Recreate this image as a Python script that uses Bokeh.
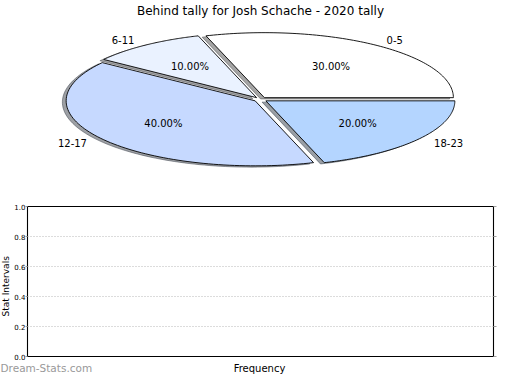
import numpy as np
from bokeh.plotting import figure
from bokeh.layouts import column, row
from bokeh.models import ColumnDataSource, FixedTicker, LinearAxis, PrintfTickFormatter
from bokeh.core.properties import value
from bokeh.embed import file_html
from bokeh.resources import INLINE

# ---- data ----
title_text = "Behind tally for Josh Schache - 2020 tally"
categories = ["0-5", "6-11", "12-17", "18-23"]
counts = [3, 1, 4, 2]
slice_colors = ["#FFFFFF", "#EAF2FF", "#C6D9FF", "#B4D5FF"]
y_ticks = [0.0, 0.2, 0.4, 0.6, 0.8, 1.0]
x_label = "Frequency"
y_label = "Stat Intervals"
watermark = "Dream-Stats.com"

FONT = "DejaVu Sans"
EXPLODE = 0.035
SHADOW = (-0.02, -0.02)
W = 512

def blank(fig):
    fig.axis.visible = False
    fig.grid.visible = False
    fig.outline_line_color = None
    return fig

# ---- pie (elliptical because of unequal axis scaling) ----
p1 = blank(figure(width=W, height=190, x_range=(-1.3757, 1.3333), y_range=(-1.4, 1.5231),
                  min_border=0, toolbar_location=None, output_backend="svg"))

vals = np.array(counts, dtype=float)
fracs = vals / vals.sum()
ends = np.cumsum(fracs) * 2 * np.pi
starts = ends - fracs * 2 * np.pi
mids = (starts + ends) / 2

def hex_to_rgb(h):
    h = h.lstrip("#")
    return tuple(int(h[i:i + 2], 16) for i in (0, 2, 4))

wx, wy, sx, sy, shadow_cols = [], [], [], [], []
for a0, a1, am, col in zip(starts, ends, mids, slice_colors):
    ox, oy = EXPLODE * np.cos(am), EXPLODE * np.sin(am)
    t = np.linspace(a0, a1, 90)
    xs = np.concatenate([[ox], ox + np.cos(t)])
    ys = np.concatenate([[oy], oy + np.sin(t)])
    wx.append(list(xs)); wy.append(list(ys))
    sx.append(list(xs + SHADOW[0])); sy.append(list(ys + SHADOW[1]))
    r, g, b = hex_to_rgb(col)
    shadow_cols.append("#%02x%02x%02x" % (int(r * 0.3), int(g * 0.3), int(b * 0.3)))

p1.patches(xs="xs", ys="ys", source=ColumnDataSource(dict(xs=sx, ys=sy, c=shadow_cols)),
           fill_color="c", fill_alpha=0.5, line_color="c", line_alpha=0.5, line_width=1)
p1.patches(xs="xs", ys="ys", source=ColumnDataSource(dict(xs=wx, ys=wy, c=slice_colors)),
           fill_color="c", line_color="black", line_width=0.9)

pct_text = ["%.2f%%" % (f * 100) for f in fracs]
pr = EXPLODE + 0.6
p1.text(x=list(pr * np.cos(mids)), y=list(pr * np.sin(mids)), text=pct_text,
        text_align="center", text_baseline="middle", text_font=value(FONT),
        text_font_size="10px", text_color="black")

lr = EXPLODE + 1.1
lx = lr * np.cos(mids)
ly = lr * np.sin(mids)
aligns = ["left" if v > 0 else "right" for v in lx]
p1.text(x="x", y="y", text="t", text_align="a",
        source=ColumnDataSource(dict(x=list(lx), y=list(ly), t=categories, a=aligns)),
        text_baseline="middle", text_font=value(FONT), text_font_size="10px",
        text_color="black")

p1.text(x=[0], y=[1.3615], text=[title_text], text_align="center", text_baseline="middle",
        text_font=value(FONT), text_font_size="12px", text_color="black")

# ---- empty axes ----
H2 = 171
LW = 11
TOP2, BOT2, FRAME_H = 16, 5, 150
p2 = figure(width=W - LW, height=H2, x_range=(0, 1), y_range=(0, 1),
            min_border_left=14, min_border_right=19, min_border_top=TOP2, min_border_bottom=BOT2,
            toolbar_location=None, output_backend="svg")
p2.xaxis.visible = False
p2.xgrid.visible = False
p2.outline_line_color = "black"
p2.outline_line_width = 1.1

ya = p2.yaxis[0]
ya.ticker = FixedTicker(ticks=y_ticks)
ya.formatter = PrintfTickFormatter(format="%.1f")
ya.axis_line_color = None
ya.major_tick_line_color = "#a0a0a0"
ya.major_tick_out = 2
ya.major_tick_in = 0
ya.minor_tick_line_color = None
ya.major_label_standoff = 0
ya.major_label_text_font = FONT
ya.major_label_text_font_size = "7px"
ya.major_label_text_color = "black"

ra = LinearAxis(ticker=FixedTicker(ticks=[], minor_ticks=y_ticks))
ra.axis_line_color = None
ra.major_tick_line_color = None
ra.minor_tick_line_color = "#a0a0a0"
ra.minor_tick_out = 3
ra.minor_tick_in = 0
ra.major_label_standoff = 0
p2.add_layout(ra, "right")

p2.ygrid.ticker = FixedTicker(ticks=y_ticks)
p2.ygrid.grid_line_color = "#b8b8b8"
p2.ygrid.grid_line_dash = "1 2"
p2.ygrid.grid_line_width = 1

# y-axis title strip at the far left
pL = blank(figure(width=LW, height=H2, x_range=(0, 1),
                  y_range=(-BOT2 / FRAME_H, 1 + TOP2 / FRAME_H),
                  min_border=0, toolbar_location=None, output_backend="svg"))
pL.text(x=[0.5], y=[0.5], text=[y_label], angle=np.pi / 2, text_align="center",
        text_baseline="middle", text_font=value(FONT), text_font_size="9px",
        text_color="black")

# bottom strip: watermark + x-axis title
p3 = blank(figure(width=W, height=13, x_range=(-25 / 468, (W - 25) / 468), y_range=(0, 1),
                  min_border=0, toolbar_location=None, output_backend="svg"))
p3.text(x=[0.5], y=[0.5], text=[x_label], text_align="center", text_baseline="middle",
        text_font=value(FONT), text_font_size="10px", text_color="black")
p3.text(x=[-25 / 468], y=[0.5], text=[watermark], text_align="left", text_baseline="middle",
        text_font=value(FONT), text_font_size="10.5px", text_color="#999999")

layout = column(p1, row(pL, p2, spacing=0), p3, spacing=0)
open("out.html", "w").write(file_html(layout, INLINE))
